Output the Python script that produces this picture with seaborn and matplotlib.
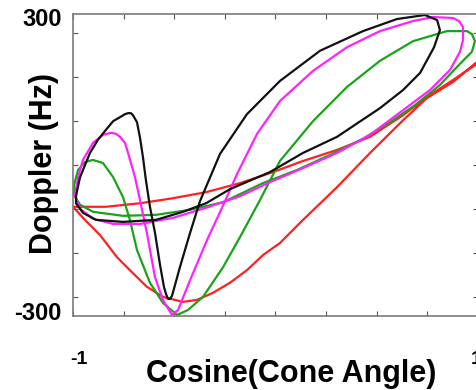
import numpy as np
import pandas as pd
import matplotlib
matplotlib.use("Agg")
import matplotlib.pyplot as plt
import seaborn as sns

# ---- data (cosine of cone angle vs Doppler in Hz) ----
black_x = [-0.985, -0.975, -0.965, -0.916, -0.877, -0.837, -0.802, -0.768, -0.743, -0.728,
           -0.714, -0.704, -0.684, -0.669, -0.654, -0.640, -0.620,
           -0.595, -0.570, -0.551, -0.541, -0.531, -0.521, -0.511, -0.472, -0.422, -0.373,
           -0.274, -0.141, 0.022, 0.220, 0.432, 0.600, 0.738, 0.798, 0.812, 0.783, 0.714,
           0.630, 0.516, 0.304, 0.136, -0.027, -0.225, -0.343, -0.457, -0.590, -0.753,
           -0.886, -0.951, -0.985, -0.985]
black_y = [-62, -42, -24, 24, 50, 70, 87, 95, 101, 103,
           103, 99, 85, 54, 14, -30, -83,
           -135, -199, -242, -256, -266, -266, -260, -203, -135, -72,
           22, 101, 167, 227, 266, 290, 298, 288, 268, 234, 183,
           149, 113, 56, 24, -14, -48, -76, -93, -109, -113,
           -109, -95, -76, -62]

magenta_x = [-0.990, -0.975, -0.951, -0.901, -0.852, -0.812, -0.788, -0.768, -0.743, -0.728,
             -0.694, -0.669, -0.635, -0.595, -0.556, -0.511, -0.481, -0.422, -0.338, -0.264,
             -0.190, -0.091, 0.022, 0.185, 0.353, 0.516, 0.679, 0.778, 0.877, 0.906,
             0.926, 0.926, 0.911, 0.862, 0.763, 0.630, 0.467, 0.304, 0.136, -0.027,
             -0.175, -0.343, -0.506, -0.669, -0.802, -0.901, -0.965, -0.990]
magenta_y = [-60, -24, 10, 44, 60, 64, 62, 56, 44, 24,
             -24, -70, -135, -223, -268, -298, -288, -229, -149, -85,
             -18, 62, 127, 187, 234, 266, 286, 294, 292, 286,
             274, 248, 225, 189, 149, 109, 60, 24, -6, -34,
             -62, -85, -105, -117, -117, -107, -87, -60]

green_x = [-0.995, -0.975, -0.941, -0.901, -0.852, -0.802, -0.753, -0.719, -0.684, -0.620,
           -0.556, -0.486, -0.432, -0.358, -0.259, -0.175, -0.077, 0.022, 0.185, 0.353,
           0.516, 0.679, 0.847, 0.946, 0.970, 0.985, 0.970, 0.911, 0.812, 0.689, 0.565,
           0.432, 0.269, 0.106, -0.062, -0.259, -0.422, -0.590, -0.753, -0.901, -0.965,
           -0.995, -0.995]
green_y = [-40, -10, 6, 10, 4, -24, -64, -109, -169, -234,
           -274, -298, -288, -262, -203, -143, -70, 8, 87, 155,
           207, 246, 266, 266, 260, 246, 225, 201, 159, 119, 85,
           52, 20, -10, -36, -74, -89, -99, -101, -93, -79,
           -60, -40]

red_x = [0.995, 0.877, 0.748, 0.630, 0.467, 0.304, 0.136, 0.022, -0.062, -0.141,
         -0.225, -0.309, -0.388, -0.457, -0.556, -0.635, -0.719, -0.783, -0.867, -0.941,
         -1.000, -0.837, -0.669, -0.506, -0.343, -0.175, -0.012, 0.136, 0.304, 0.467,
         0.630, 0.748, 0.877, 0.995]
red_y = [205, 165, 133, 89, 24, -44, -109, -155, -179, -209,
         -234, -254, -268, -272, -262, -242, -209, -183, -139, -109,
         -83, -83, -76, -66, -54, -36, -14, 8, 30, 56,
         99, 135, 169, 201]

curve_colors = {"black": "#111111", "magenta": "#ff22ff", "green": "#1aa31a", "red": "#ff2020"}

frames = []
for name, xs, ys in [("black", black_x, black_y), ("magenta", magenta_x, magenta_y),
                     ("green", green_x, green_y), ("red", red_x, red_y)]:
    frames.append(pd.DataFrame({"cos": xs, "doppler": ys, "curve": name}))
df = pd.concat(frames, ignore_index=True)

sns.set_theme(style="white")
plt.rcParams["font.family"] = ["Liberation Sans", "DejaVu Sans"]

W, H = 477, 390
fig = plt.figure(figsize=(W / 100, H / 100), dpi=100)
ax_l, ax_r, ax_t, ax_b = 73, 478, 14, 316
ax = fig.add_axes([ax_l / W, (H - ax_b) / H, (ax_r - ax_l) / W, (ax_b - ax_t) / H])

sns.lineplot(data=df, x="cos", y="doppler", hue="curve", units="curve",
             estimator=None, sort=False, palette=curve_colors,
             hue_order=["red", "green", "magenta", "black"],
             linewidth=1.6, legend=False, ax=ax)
for ln in ax.lines:
    ln.set_solid_joinstyle("round")

ax.set_xlim(-1, 1)
ax.set_ylim(-300, 300)
ax.set_xlabel("")
ax.set_ylabel("")

# ticks: inward on all sides, no numeric labels except the extremes
ax.set_xticks(np.arange(-1, 1.01, 0.25))
ax.set_xticklabels([])
ax.set_yticks(np.arange(-262.5, 263, 87.5))
ax.set_yticklabels([])
ax.tick_params(axis="both", which="both", direction="in", length=3.5, width=0.8,
               color="#555555", top=True, right=True, bottom=True, left=True)
for s in ax.spines.values():
    s.set_color("#7a7a7a")
    s.set_linewidth(1.2)
    s.set_visible(True)

lab = dict(fontweight="bold", color="black")
ax_w = ax_r - ax_l
ax_h = ax_b - ax_t
ax.text((62 - ax_l) / ax_w, (ax_b - 20) / ax_h, "300", transform=ax.transAxes,
        ha="right", va="center", fontsize=17, **lab)
ax.text((62 - ax_l) / ax_w, (ax_b - 313) / ax_h, "-300", transform=ax.transAxes,
        ha="right", va="center", fontsize=17, **lab)
ax.text((79 - ax_l) / ax_w, (ax_b - 360) / ax_h, "-1", transform=ax.transAxes,
        ha="center", va="center", fontsize=14, clip_on=False, **lab)
ax.text((476 - ax_l) / ax_w, (ax_b - 360) / ax_h, "1", transform=ax.transAxes,
        ha="center", va="center", fontsize=14, clip_on=False, **lab)

fig.text(291 / W, (H - 382) / H, "Cosine(Cone Angle)", ha="center", va="baseline",
         fontsize=22, **lab)
fig.text(59 / W, (H - 163.5) / H, "Doppler (Hz)", rotation=90, ha="right", va="center",
         fontsize=22, **lab)

fig.savefig("out.png", dpi=100)
